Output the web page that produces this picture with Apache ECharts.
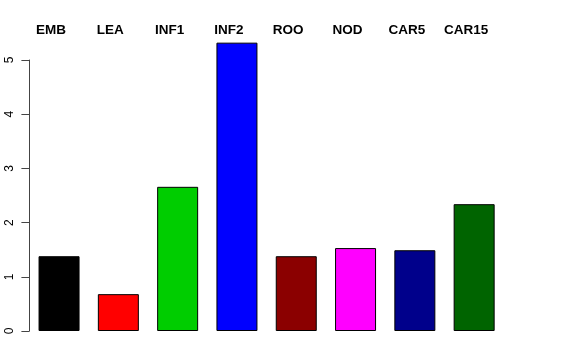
<!DOCTYPE html>
<html>
<head>
<meta charset="utf-8">
<script src="https://cdn.jsdelivr.net/npm/echarts@6/dist/echarts.min.js"></script>
<style>html,body{margin:0;padding:0;background:#fff}#c{width:576px;height:360px}</style>
</head>
<body>
<div id="c"></div>
<script>
const categories = ["EMB", "LEA", "INF1", "INF2", "ROO", "NOD", "CAR5", "CAR15"];
const values = [1.38, 0.68, 2.66, 5.32, 1.38, 1.53, 1.49, 2.34];
const barColors = ["#000000", "#FF0000", "#00CD00", "#0000FF", "#8B0000", "#FF00FF", "#00008B", "#006400"];
const yTicks = [0, 1, 2, 3, 4, 5];

const chart = echarts.init(document.getElementById('c'), null, {renderer: 'canvas'});
chart.setOption({
  animation: false,
  backgroundColor: '#ffffff',
  grid: {left: 29.4, right: 72.2, top: 60, bottom: 29},
  xAxis: {
    type: 'category',
    position: 'top',
    data: categories,
    boundaryGap: true,
    axisLine: {show: false},
    axisTick: {show: false},
    axisLabel: {
      margin: 23,
      fontFamily: 'Liberation Sans, Arial, sans-serif',
      fontWeight: 'bold',
      fontSize: 13.5,
      color: '#000',
      padding: [0, 16, 0, 0],
      interval: 0
    }
  },
  yAxis: {
    type: 'value',
    min: yTicks[0],
    max: yTicks[yTicks.length - 1],
    interval: 1,
    splitLine: {show: false},
    axisLine: {show: true, lineStyle: {color: '#444', width: 1}},
    axisTick: {show: true, length: 8, lineStyle: {color: '#444'}},
    axisLabel: {
      rotate: 90,
      margin: 14,
      fontFamily: 'Liberation Sans, Arial, sans-serif',
      fontSize: 12,
      color: '#000'
    }
  },
  series: [{
    type: 'bar',
    clip: false,
    barWidth: 41,
    data: values.map((v, i) => ({value: v, itemStyle: {color: barColors[i]}})),
    itemStyle: {borderColor: '#000', borderWidth: 1}
  }]
});
</script>
</body>
</html>
